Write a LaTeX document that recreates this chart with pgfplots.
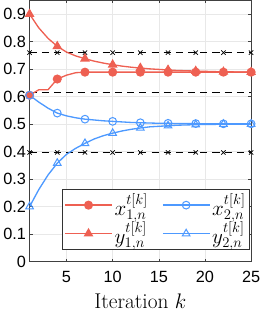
\documentclass[border=0pt]{standalone}
\usepackage{pgfplots}
\pgfplotsset{compat=1.18}
\usepackage{fontspec}
\newfontfamily\ticksfont{Liberation Sans}
\definecolor{cred}{RGB}{238,96,82}
\definecolor{cblue}{RGB}{77,153,255}
\begin{document}
\begin{tikzpicture}
\begin{axis}[
  scale only axis,
  width=218pt, height=257pt,
  xmin=1, xmax=25, ymin=0, ymax=0.95,
  xtick={5,10,15,20,25},
  ytick={0,0.1,0.2,0.3,0.4,0.5,0.6,0.7,0.8,0.9},
  yticklabels={0,0.1,0.2,0.3,0.4,0.5,0.6,0.7,0.8,0.9},
  /pgf/number format/assume math mode=true,
  tick label style={font=\ticksfont\fontsize{16}{18}\selectfont},
  xticklabel style={yshift=-6pt},
  xlabel={Iteration $k$},
  xlabel style={font=\fontsize{21}{23}\selectfont, yshift=-4pt},
  grid=major,
  major grid style={gray!18, line width=0.6pt},
  axis line style={black!75, line width=0.8pt},
  tick style={black!75, line width=0.6pt},
  major tick length=3pt,
  tick align=inside,
  xtick pos=both, ytick pos=both,
  legend columns=2,
  legend style={at={(0.995,0.045)}, anchor=south east, draw=black!80, line width=0.8pt,
    font=\fontsize{20}{22}\selectfont, inner sep=2pt, row sep=1pt,
    /tikz/every even column/.append style={column sep=12pt}},
  legend cell align=left,
  legend image code/.code={\draw[line width=1.3pt, mark repeat=2,mark phase=2] plot coordinates {(0pt,0pt) (23pt,0pt) (46pt,0pt)};},
]
% dashed reference lines
\addplot[black, dashed, dash pattern=on 7pt off 5pt, line width=0.7pt, mark=x, mark size=3pt, mark options={solid}, forget plot]
  coordinates {(1,0.76)(4,0.76)(7,0.76)(10,0.76)(13,0.76)(16,0.76)(19,0.76)(22,0.76)(25,0.76)};
\addplot[black, dashed, dash pattern=on 7pt off 5pt, line width=0.7pt, mark=x, mark size=3pt, mark options={solid}, forget plot]
  coordinates {(1,0.397)(4,0.397)(7,0.397)(10,0.397)(13,0.397)(16,0.397)(19,0.397)(22,0.397)(25,0.397)};
\addplot[black, dashed, dash pattern=on 7pt off 5pt, line width=0.7pt, forget plot]
  coordinates {(1,0.617)(25,0.617)};
% x1
\addplot[cred, line width=1.3pt, mark=*, mark size=3.8pt, mark repeat=3, mark options={fill=cred}]
  coordinates {(1,0.605)(2,0.625)(3,0.625)(4,0.664)(5,0.678)(6,0.687)(7,0.689)(8,0.689)(9,0.689)(10,0.689)(11,0.689)(12,0.689)(13,0.689)(14,0.689)(15,0.689)(16,0.689)(17,0.689)(18,0.689)(19,0.689)(20,0.689)(21,0.689)(22,0.689)(23,0.689)(24,0.689)(25,0.689)};
\addlegendentry{$x^{t[k]}_{1,n}$}
% x2
\addplot[cblue, line width=1.3pt, mark=o, mark size=3.8pt, mark repeat=3, mark options={line width=1pt}]
  coordinates {(1,0.605)(2,0.580)(3,0.558)(4,0.540)(5,0.530)(6,0.523)(7,0.518)(8,0.515)(9,0.512)(10,0.510)(11,0.508)(12,0.506)(13,0.505)(14,0.504)(15,0.503)(16,0.503)(17,0.502)(18,0.502)(19,0.502)(20,0.501)(21,0.501)(22,0.501)(23,0.501)(24,0.501)(25,0.501)};
\addlegendentry{$x^{t[k]}_{2,n}$}
% y1
\addplot[cred, line width=1.3pt, mark=triangle*, mark size=4.3pt, mark repeat=3, mark options={fill=cred}]
  coordinates {(1,0.900)(2,0.850)(3,0.812)(4,0.783)(5,0.762)(6,0.748)(7,0.738)(8,0.729)(9,0.722)(10,0.716)(11,0.711)(12,0.707)(13,0.704)(14,0.701)(15,0.699)(16,0.697)(17,0.695)(18,0.694)(19,0.693)(20,0.692)(21,0.691)(22,0.690)(23,0.690)(24,0.689)(25,0.689)};
\addlegendentry{$y^{t[k]}_{1,n}$}
% y2
\addplot[cblue, line width=1.3pt, mark=triangle, mark size=4.3pt, mark repeat=3, mark options={line width=1pt}]
  coordinates {(1,0.200)(2,0.262)(3,0.315)(4,0.358)(5,0.390)(6,0.412)(7,0.430)(8,0.446)(9,0.458)(10,0.467)(11,0.475)(12,0.481)(13,0.486)(14,0.490)(15,0.492)(16,0.494)(17,0.496)(18,0.497)(19,0.498)(20,0.499)(21,0.499)(22,0.500)(23,0.500)(24,0.500)(25,0.500)};
\addlegendentry{$y^{t[k]}_{2,n}$}
\end{axis}
\end{tikzpicture}
\end{document}
